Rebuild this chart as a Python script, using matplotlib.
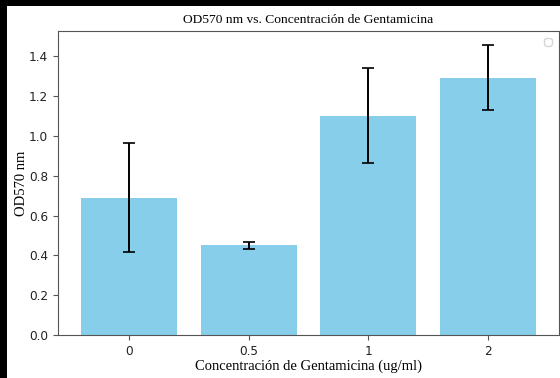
#!/usr/bin/env python
# coding=utf-8

import matplotlib
matplotlib.use("Agg")
import matplotlib.pyplot as plt
from matplotlib.patches import Rectangle

serif_font = "Liberation Serif"

# concentraciones (categorias) y OD570 medio con su desviacion
concentrations = ["0", "0.5", "1", "2"]
od570_mean = [0.69, 0.45, 1.10, 1.29]
od570_err = [0.275, 0.018, 0.238, 0.163]

W, H = 560, 378
fig = plt.figure(figsize=(W / 100, H / 100), dpi=100, facecolor="white")

# the screenshot has a black strip on the top and left edges
for xy, w, h in [((0, 0), 7 / W, 1), ((0, 1 - 6 / H), 1, 6 / H)]:
    fig.patches.append(Rectangle(xy, w, h, transform=fig.transFigure,
                                 facecolor="black", edgecolor="none"))

ax = fig.add_axes([58 / W, 42.7 / H, 501 / W, 304.6 / H])
ax.bar(concentrations, od570_mean, yerr=od570_err, color="skyblue",
       capsize=4, error_kw={"elinewidth": 1.4, "capthick": 1.2})

ax.set_title("OD570 nm vs. Concentración de Gentamicina",
             fontdict={"family": serif_font, "size": 9.7}, pad=5.5)
ax.set_xlabel("Concentración de Gentamicina (ug/ml)",
              fontdict={"family": serif_font, "size": 10.5}, labelpad=1)
ax.set_ylabel("OD570 nm", fontdict={"family": serif_font, "size": 10.5},
              labelpad=0.5)
for spine in ax.spines.values():
    spine.set_color("#555555")
ax.tick_params(labelsize=8.7, color="#555555", labelcolor="#222222")
ax.legend(handles=[], loc="upper right", borderpad=0.3)

plt.savefig("out.png", dpi=100)
plt.close()
